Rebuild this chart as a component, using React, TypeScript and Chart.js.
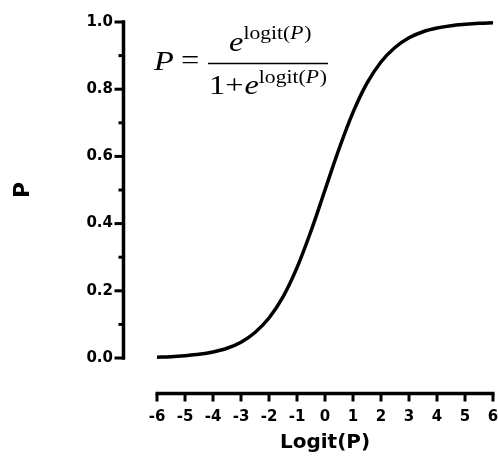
import React, { useEffect, useRef } from "react";
import { Chart, registerables } from "chart.js";

Chart.register(...registerables);

// Data
const logitValues = [-6, -5.5, -5, -4.5, -4, -3.5, -3, -2.5, -2, -1.5, -1, -0.5, 0, 0.5, 1, 1.5, 2, 2.5, 3, 3.5, 4, 4.5, 5, 5.5, 6];
const pValues = [0.0025, 0.004, 0.007, 0.011, 0.018, 0.029, 0.047, 0.076, 0.119, 0.182, 0.269, 0.378, 0.5, 0.622, 0.731, 0.818, 0.881, 0.924, 0.953, 0.971, 0.982, 0.989, 0.993, 0.996, 0.9975];
const xTickValues = [-6, -5, -4, -3, -2, -1, 0, 1, 2, 3, 4, 5, 6];
const yMajorTicks = [0, 0.2, 0.4, 0.6, 0.8, 1.0];
const yMinorTicks = [0.1, 0.3, 0.5, 0.7, 0.9];
const xTitle = "Logit(P)";
const yTitle = "P";

const W = 498;
const H = 457;

export default function App() {
  const ref = useRef<HTMLCanvasElement | null>(null);

  useEffect(() => {
    if (!ref.current) return;

    const axesPlugin = {
      id: "offsetAxes",
      afterDraw(chart: any) {
        const { ctx, chartArea, scales } = chart;
        const xs = scales.x;
        const ys = scales.y;
        ctx.save();
        ctx.strokeStyle = "#000";
        ctx.lineWidth = 3.5;
        ctx.lineCap = "butt";
        // y axis (offset to the left)
        const axX = chartArea.left - 33.5;
        ctx.beginPath();
        ctx.moveTo(axX, ys.getPixelForValue(1) - 1.75);
        ctx.lineTo(axX, ys.getPixelForValue(0) + 1.75);
        ctx.stroke();
        ctx.lineWidth = 3;
        yMajorTicks.forEach((v) => {
          const py = ys.getPixelForValue(v);
          ctx.beginPath();
          ctx.moveTo(axX - 9, py);
          ctx.lineTo(axX, py);
          ctx.stroke();
        });
        yMinorTicks.forEach((v) => {
          const py = ys.getPixelForValue(v);
          ctx.beginPath();
          ctx.moveTo(axX - 5, py);
          ctx.lineTo(axX, py);
          ctx.stroke();
        });
        // x axis (offset below)
        const axY = chartArea.bottom + 35.5;
        ctx.lineWidth = 3.5;
        ctx.beginPath();
        ctx.moveTo(xs.getPixelForValue(-6) - 1.5, axY);
        ctx.lineTo(xs.getPixelForValue(6) + 1.5, axY);
        ctx.stroke();
        ctx.lineWidth = 3;
        xTickValues.forEach((v) => {
          const px = xs.getPixelForValue(v);
          ctx.beginPath();
          ctx.moveTo(px, axY);
          ctx.lineTo(px, axY + 8);
          ctx.stroke();
        });
        ctx.restore();
      },
    };

    const eqPlugin = {
      id: "equation",
      afterDraw(chart: any) {
        const { ctx, chartArea } = chart;
        const L = chartArea.left;
        const T = chartArea.top;
        const sx = 1.2;
        const piece = (text: string, x: number, y: number, font: string) => {
          ctx.save();
          ctx.font = font;
          ctx.fillStyle = "#000";
          ctx.textBaseline = "alphabetic";
          ctx.textAlign = "left";
          ctx.translate(x, y);
          ctx.scale(sx, 1);
          ctx.fillText(text, 0, 0);
          const w = ctx.measureText(text).width * sx;
          ctx.restore();
          return x + w;
        };
        const big = "27px 'Liberation Serif'";
        const bigI = "italic 27px 'Liberation Serif'";
        const sup = "18px 'Liberation Serif'";
        const supI = "italic 18px 'Liberation Serif'";
        const supRun = (x: number, y: number) => {
          let cx = piece("logit(", x, y, sup);
          cx = piece("P", cx, y, supI);
          piece(")", cx + 1, y, sup);
        };
        // P =
        piece("P", L - 3, T + 48, bigI);
        piece("=", L + 24, T + 47, big);
        // fraction bar
        ctx.save();
        ctx.strokeStyle = "#000";
        ctx.lineWidth = 1.3;
        ctx.beginPath();
        ctx.moveTo(L + 51, T + 41.5);
        ctx.lineTo(L + 171, T + 41.5);
        ctx.stroke();
        ctx.restore();
        // numerator
        const nx = piece("e", L + 72, T + 29, bigI);
        supRun(nx, T + 17);
        // denominator
        let dx = piece("1+", L + 52, T + 72, big);
        dx = piece("e", dx + 1, T + 72, bigI);
        supRun(dx, T + 61);
      },
    };

    const chart = new Chart(ref.current, {
      type: "line",
      data: {
        labels: logitValues,
        datasets: [
          {
            data: logitValues.map((x, i) => ({ x, y: pValues[i] })),
            borderColor: "#000",
            borderWidth: 3.5,
            pointRadius: 0,
            fill: false,
            cubicInterpolationMode: "monotone",
            clip: 6,
          },
        ],
      },
      options: {
        animation: false,
        responsive: false,
        layout: { padding: { top: 22, right: 5, left: 0, bottom: 0 } },
        plugins: {
          legend: { display: false },
          tooltip: { enabled: false },
        },
        scales: {
          x: {
            type: "linear",
            min: -6,
            max: 6,
            grid: { display: false, drawTicks: false },
            border: { display: false },
            ticks: {
              stepSize: 1,
              color: "#000",
              padding: 50,
              font: { family: "'DejaVu Sans'", weight: "bold", size: 15 },
              autoSkip: false,
              maxRotation: 0,
            },
            afterBuildTicks: (scale: any) => {
              scale.ticks = xTickValues.map((v) => ({ value: v }));
            },
            afterFit: (scale: any) => {
              scale.height = 99;
              scale.paddingLeft = 0;
              scale.paddingRight = 0;
            },
            title: {
              display: true,
              text: xTitle,
              color: "#000",
              font: { family: "'DejaVu Sans'", weight: "bold", size: 20 },
              padding: { top: 0, bottom: 2 },
            },
          },
          y: {
            type: "linear",
            min: 0,
            max: 1,
            grid: { display: false, drawTicks: false },
            border: { display: false },
            ticks: {
              color: "#000",
              padding: 44,
              font: { family: "'DejaVu Sans'", weight: "bold", size: 15 },
              callback: (v: any) => Number(v).toFixed(1),
            },
            afterBuildTicks: (scale: any) => {
              scale.ticks = yMajorTicks.map((v) => ({ value: v }));
            },
            afterFit: (scale: any) => {
              scale.width = 157;
              scale.paddingTop = 0;
              scale.paddingBottom = 0;
            },
            title: {
              display: true,
              text: yTitle,
              color: "#000",
              font: { family: "'DejaVu Sans'", weight: "bold", size: 22 },
              padding: { top: 10, bottom: 0 },
            },
          },
        },
      },
      plugins: [axesPlugin, eqPlugin],
    } as any);

    return () => chart.destroy();
  }, []);

  return (
    <div style={{ position: "absolute", left: 0, top: 0, width: W, height: H, background: "#fff" }}>
      <canvas ref={ref} width={W} height={H} style={{ display: "block" }} />
    </div>
  );
}
